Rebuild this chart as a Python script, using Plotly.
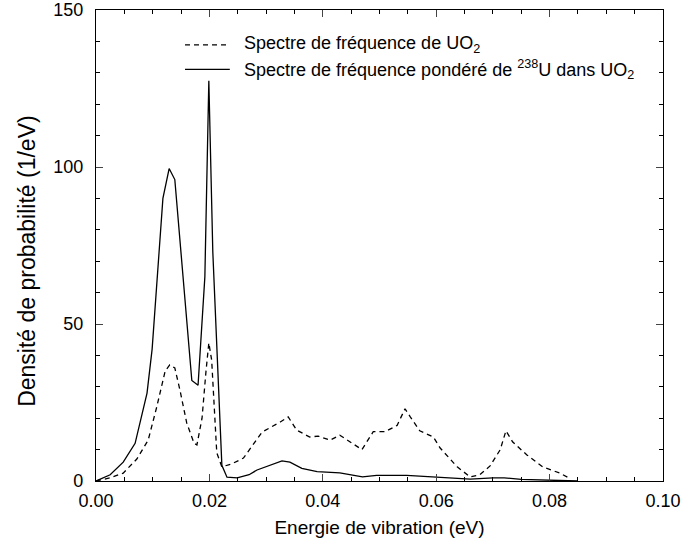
import plotly.graph_objects as go

# Spectre de fréquence de UO2 (dashed)
x_uo2 = [0.0, 0.0025, 0.0048, 0.0072, 0.0092, 0.0107, 0.0122, 0.013, 0.0139, 0.0148,
         0.016, 0.0173, 0.0178, 0.0187, 0.0194, 0.0199, 0.0204, 0.0213, 0.0222, 0.024,
         0.026, 0.0277, 0.0293, 0.0325, 0.0339, 0.0354, 0.0377, 0.0392, 0.0413, 0.043,
         0.0448, 0.0469, 0.0489, 0.051, 0.0531, 0.0545, 0.0554, 0.0571, 0.0595, 0.0607,
         0.0637, 0.066, 0.0677, 0.0695, 0.0713, 0.0723, 0.0735, 0.076, 0.0788, 0.0818,
         0.0836]
y_uo2 = [0, 1, 2.5, 7, 13, 23.5, 35, 37, 36, 29,
         18.5, 12, 11.5, 20, 35, 44, 38.5, 9, 4.5, 5.5,
         7.3, 11.5, 15.6, 18.8, 20.4, 16.2, 14, 14.3, 13, 14.6,
         12.5, 10, 15.7, 15.7, 17.7, 23, 20.5, 16, 14, 10.5,
         4.5, 1.3, 2, 4.8, 10, 16, 12.4, 8.3, 4.5, 2.5,
         0.8]

# Spectre de fréquence pondéré de 238U dans UO2 (solid)
x_u238 = [0.0, 0.0025, 0.0048, 0.0069, 0.009, 0.0099, 0.0118, 0.0129, 0.0139, 0.0169,
          0.018, 0.0192, 0.0199, 0.0206, 0.0222, 0.0231, 0.0249, 0.027, 0.0284, 0.0305,
          0.0328, 0.0342, 0.0363, 0.039, 0.043, 0.047, 0.0495, 0.0548, 0.0595, 0.062,
          0.066, 0.07, 0.072, 0.075, 0.08, 0.085]
y_u238 = [0, 2, 6, 12, 28, 42, 90, 99.5, 96, 32,
          30.5, 65, 127.5, 73, 5, 1.2, 1, 2, 3.5, 5,
          6.4, 6, 4, 3, 2.6, 1.3, 1.8, 1.8, 1.3, 0.9,
          0.6, 1, 1, 0.5, 0.2, 0]

names = ["Spectre de fréquence de UO<sub>2</sub>",
         "Spectre de fréquence pondéré de <sup>238</sup>U dans UO<sub>2</sub>"]
dashes = ["5px,4px", "solid"]

font = "Liberation Sans, Arial, sans-serif"

fig = go.Figure()
fig.add_trace(go.Scatter(x=x_uo2, y=y_uo2, mode="lines", name=names[0], showlegend=False,
                         line=dict(color="black", width=1.3, dash=dashes[0])))
fig.add_trace(go.Scatter(x=x_u238, y=y_u238, mode="lines", name=names[1], showlegend=False,
                         line=dict(color="black", width=1.3, dash=dashes[1])))

# hand-drawn legend (longer line samples than plotly's own legend)
for i, (name, dash) in enumerate(zip(names, dashes)):
    ly = 0.926 - i * 0.052
    fig.add_shape(type="line", xref="paper", yref="paper", x0=0.157, x1=0.236, y0=ly, y1=ly,
                  line=dict(color="black", width=1.3, dash=dash))
    fig.add_annotation(xref="paper", yref="paper", x=0.2575, y=ly, text=name, showarrow=False,
                       xanchor="left", yanchor="middle", font=dict(size=18))

# y title as annotation: it sits a bit below the plot's middle in the original
fig.add_annotation(xref="paper", yref="paper", x=-0.122, y=0.467, text="Densité de probabilité (1/eV)",
                   textangle=-90, showarrow=False, xanchor="center", yanchor="middle",
                   font=dict(size=23))

fig.update_layout(
    width=687, height=540,
    margin=dict(l=96, r=24, t=10, b=59),
    paper_bgcolor="white", plot_bgcolor="white",
    font=dict(family=font, size=18, color="black"),
    xaxis=dict(range=[0, 0.1], dtick=0.02, tickformat=".2f", ticks="inside", ticklen=7,
               tickfont=dict(size=18), automargin=False, ticklabelstandoff=3,
               showline=True, linecolor="black", linewidth=1.2, mirror="allticks",
               showgrid=False, zeroline=False,
               minor=dict(dtick=0.005, ticks="inside", ticklen=4, tickcolor="black"),
               title=dict(text="Energie de vibration (eV)", standoff=10, font=dict(size=19))),
    yaxis=dict(range=[0, 150], dtick=50, ticks="inside", ticklen=7,
               tickfont=dict(size=18), automargin=False, ticklabelstandoff=8,
               showline=True, linecolor="black", linewidth=1.2, mirror="allticks",
               showgrid=False, zeroline=False,
               minor=dict(dtick=10, ticks="inside", ticklen=4, tickcolor="black")),
)

# drop the browser's default 8px body margin so the figure sits at the page corner
fig.write_html("out.html", config={"displayModeBar": False},
               post_script="document.body.style.margin='0';")
